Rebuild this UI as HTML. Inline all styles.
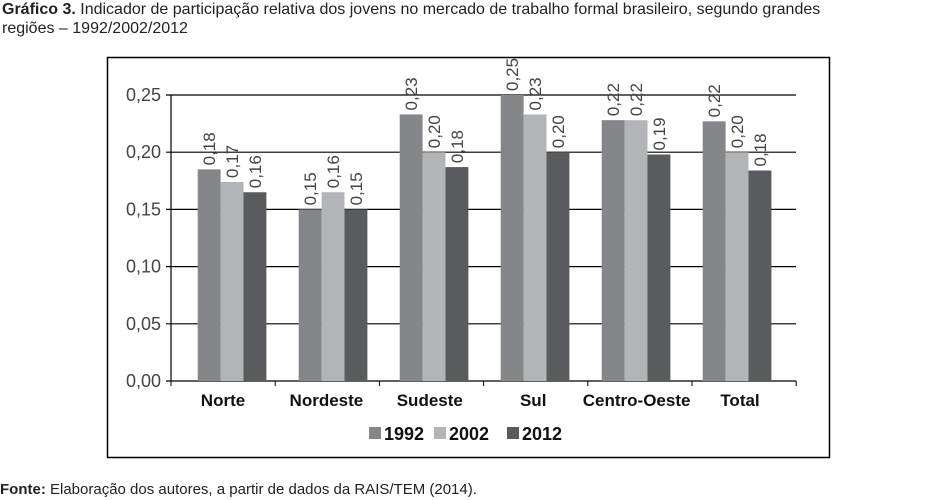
<!DOCTYPE html>
<html><head><meta charset="utf-8"><style>
body{margin:0;width:938px;height:500px;background:#fff;font-family:"Liberation Sans",sans-serif;position:relative;overflow:hidden}
.t{position:absolute;left:2px;font-size:16px;color:#222;line-height:19px;top:0;white-space:nowrap}
.f{position:absolute;left:0;top:481px;font-size:15px;color:#222}
</style></head><body>
<div class="t"><b>Gráfico 3.</b> Indicador de participação relativa dos jovens no mercado de trabalho formal brasileiro, segundo grandes<br>regiões – 1992/2002/2012</div>
<svg width="938" height="500" style="position:absolute;left:0;top:0" id="c">
<rect x="107.5" y="57.5" width="722" height="400" fill="none" stroke="#000" stroke-width="1.5"/>
</svg>
<div class="f"><b>Fonte:</b> Elaboração dos autores, a partir de dados da RAIS/TEM (2014).</div>
<script>
const categories=["Norte","Nordeste","Sudeste","Sul","Centro-Oeste","Total"];
const series=["1992","2002","2012"];
const v1992=[0.185,0.150,0.233,0.250,0.228,0.227];
const v2002=[0.174,0.165,0.200,0.233,0.228,0.200];
const v2012=[0.165,0.150,0.187,0.200,0.198,0.184];
const labels1992=["0,18","0,15","0,23","0,25","0,22","0,22"];
const labels2002=["0,17","0,16","0,20","0,23","0,22","0,20"];
const labels2012=["0,16","0,15","0,18","0,20","0,19","0,18"];
const yTicks=[0,0.05,0.10,0.15,0.20,0.25];
const yTickLabels=["0,00","0,05","0,10","0,15","0,20","0,25"];
const colors=["#85868a","#b3b4b8","#5a5b5f"];
const svg=document.getElementById('c');const NS="http://www.w3.org/2000/svg";
const L=171,R=796,T=95,B=381;
const y=v=>B-(v/0.25)*(B-T);
const gx=i=>197.7+i*101;
const lx=i=>223+i*103.4;
const bw=22.9;
function mk(t,a){const e=document.createElementNS(NS,t);for(const k in a)e.setAttribute(k,a[k]);svg.appendChild(e);return e;}
yTicks.forEach((t,i)=>{
 const g=mk('line',{x1:L-5,x2:R,y1:y(t),y2:y(t),stroke:'#000','stroke-width':1.2});
 
 
 const tx=mk('text',{x:L-10,y:y(t)+6,'text-anchor':'end','font-size':18,fill:'#444'});
 tx.textContent=yTickLabels[i];
 
 
});
const ax=mk('line',{x1:L,x2:L,y1:T,y2:B,stroke:'#000','stroke-width':1.2});


for(let i=0;i<=6;i++){const tk=mk('line',{x1:L+i*104.2,x2:L+i*104.2,y1:B,y2:B+5,stroke:'#000'});
 
 }
const vals=[v1992,v2002,v2012],labs=[labels1992,labels2002,labels2012];
categories.forEach((c,i)=>{
 vals.forEach((arr,s)=>{
  const x=gx(i)+s*bw;
  const r=mk('rect',{x:x,y:y(arr[i]),width:bw,height:B-y(arr[i]),fill:colors[s]});
  
  
  const cx=x+bw/2+6,cy=y(arr[i])-4;
  const t=mk('text',{x:cx,y:cy,transform:`rotate(-90 ${cx} ${cy})`,'font-size':17,fill:'#444'});
  t.textContent=labs[s][i];
  
  
 });
 const t=mk('text',{x:lx(i),y:406,'text-anchor':'middle','font-size':17,'font-weight':'bold',fill:'#111','font-family':'"Liberation Sans Narrow","Liberation Sans",sans-serif'});
 t.textContent=c;
 
 
});
const legX=[369,434,507];
series.forEach((s,i)=>{
 const r=mk('rect',{x:legX[i],y:427,width:12,height:12,fill:colors[i]});
 
 
 const t=mk('text',{x:legX[i]+15,y:440,'font-size':18,'font-weight':'bold',fill:'#111','font-family':'"Liberation Sans Narrow","Liberation Sans",sans-serif'});
 t.textContent=s;
 
 
});
</script>
</body></html>
